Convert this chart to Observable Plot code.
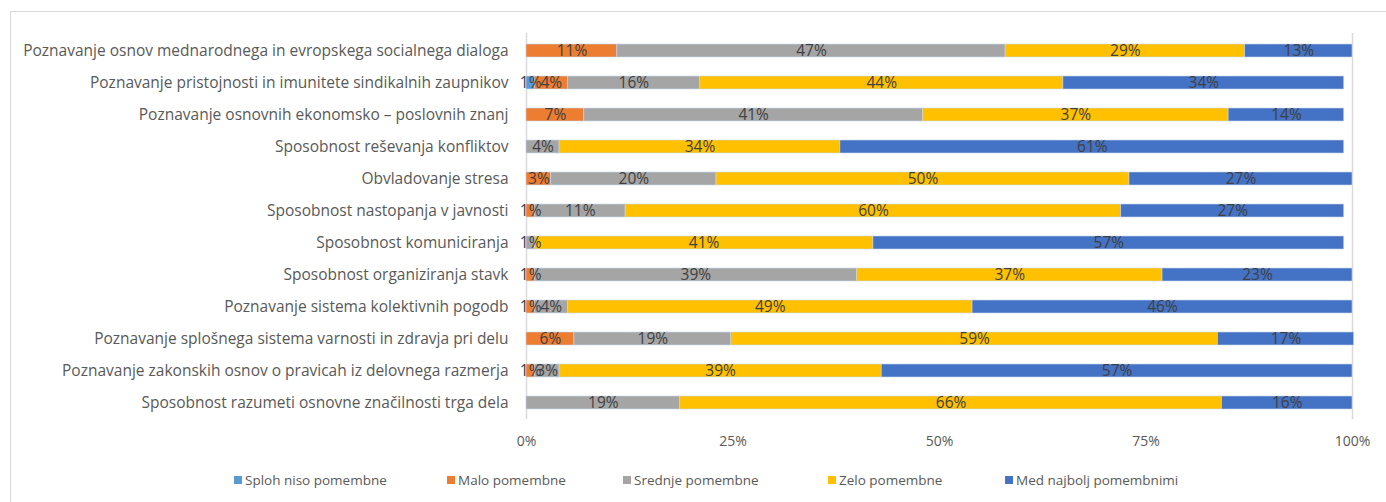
<!DOCTYPE html>
<html>
<head>
<meta charset="utf-8">
<script src="https://cdn.jsdelivr.net/npm/d3@7"></script>
<script src="https://cdn.jsdelivr.net/npm/@observablehq/plot@0.6"></script>
<style>
  html, body { margin: 0; padding: 0; background: #fff; }
  #wrap { position: relative; width: 1386px; height: 502px; overflow: hidden; font-family: "Open Sans", sans-serif; }
  #frame { position: absolute; left: 10px; top: 11px; width: 1400px; height: 520px; border-left: 1px solid #d9d9d9; border-top: 1px solid #d9d9d9; }
  #chart { position: absolute; left: 0; top: 0; }
  #legend { position: absolute; top: 470px; left: 0; width: 1386px; height: 20px; font-size: 13.5px; color: #595959; }
  .item { position: absolute; top: 0; display: flex; align-items: center; white-space: nowrap; line-height: 20px; }
  .sw { width: 8px; height: 8px; margin-right: 3px; }
</style>
</head>
<body>
<div id="wrap">
  <div id="frame"></div>
  <div id="chart"></div>
  <div id="legend"></div>
</div>
<script>
const categories = [
  "Poznavanje osnov mednarodnega in evropskega socialnega dialoga",
  "Poznavanje pristojnosti in imunitete sindikalnih zaupnikov",
  "Poznavanje osnovnih ekonomsko – poslovnih znanj",
  "Sposobnost reševanja konfliktov",
  "Obvladovanje stresa",
  "Sposobnost nastopanja v javnosti",
  "Sposobnost komuniciranja",
  "Sposobnost organiziranja stavk",
  "Poznavanje sistema kolektivnih pogodb",
  "Poznavanje splošnega sistema varnosti in zdravja pri delu",
  "Poznavanje zakonskih osnov o pravicah iz delovnega razmerja",
  "Sposobnost razumeti osnovne značilnosti trga dela"
];
const seriesNames = ["Sploh niso pomembne", "Malo pomembne", "Srednje pomembne", "Zelo pomembne", "Med najbolj pomembnimi"];
const seriesColors = ["#5b9bd5", "#ed7d31", "#a5a5a5", "#ffc000", "#4472c4"];

const splohNiso   = [0, 1, 0, 0, 0, 0, 0, 0, 0, 0,    0, 0];
const maloPom     = [11, 4, 7, 0, 3, 1, 0, 1, 1, 5.8, 1, 0];
const srednjePom  = [47, 16, 41, 4, 20, 11, 1, 39, 4, 19.0, 3, 18.6];
const zeloPom     = [29, 44, 37, 34, 50, 60, 41, 37, 49, 58.9, 39, 65.6];
const medNajbolj  = [13, 34, 14, 61, 27, 27, 57, 23, 46, 16.5, 57, 15.8];

const xTicks = [0, 25, 50, 75, 100];

const seriesValues = [splohNiso, maloPom, srednjePom, zeloPom, medNajbolj];
const data = [];
categories.forEach((c, i) => {
  seriesValues.forEach((vals, s) => {
    if (vals[i] > 0) data.push({cat: c, series: seriesNames[s], value: vals[i]});
  });
});

const chart = Plot.plot({
  width: 1386,
  height: 455,
  marginLeft: 526,
  marginRight: 34,
  marginTop: 33,
  marginBottom: 36,
  style: {fontFamily: "Open Sans, sans-serif", fontSize: "14px", color: "#595959", background: "transparent"},
  x: {domain: [0, 100], ticks: xTicks, tickFormat: d => d + "%", tickSize: 0, tickPadding: 17, label: null},
  y: {domain: categories, paddingInner: 0.6, paddingOuter: 0.3, label: null, axis: null},
  color: {domain: seriesNames, range: seriesColors},
  marks: [
    Plot.axisY({tickSize: 0, tickPadding: 18, fontSize: 15.5, label: null}),
    Plot.ruleX([0, 100], {stroke: "#d9d9d9", strokeWidth: 1.5}),
    Plot.barX(data, Plot.stackX({x: "value", y: "cat", z: "series", fill: "series", stroke: "#c9d6ee", strokeWidth: 0.6})),
    Plot.text(data, Plot.stackX({x: "value", y: "cat", z: "series", text: d => Math.round(d.value) + "%", fill: "#404040", fontSize: 15.5}))
  ]
});
document.getElementById("chart").appendChild(chart);

const legend = document.getElementById("legend");
const lx = [234, 447, 623, 828, 1005];
seriesNames.forEach((n, i) => {
  const it = document.createElement("div");
  it.className = "item";
  it.style.left = lx[i] + "px";
  it.innerHTML = `<span class="sw" style="background:${seriesColors[i]}"></span><span>${n}</span>`;
  legend.appendChild(it);
});
</script>
</body>
</html>
